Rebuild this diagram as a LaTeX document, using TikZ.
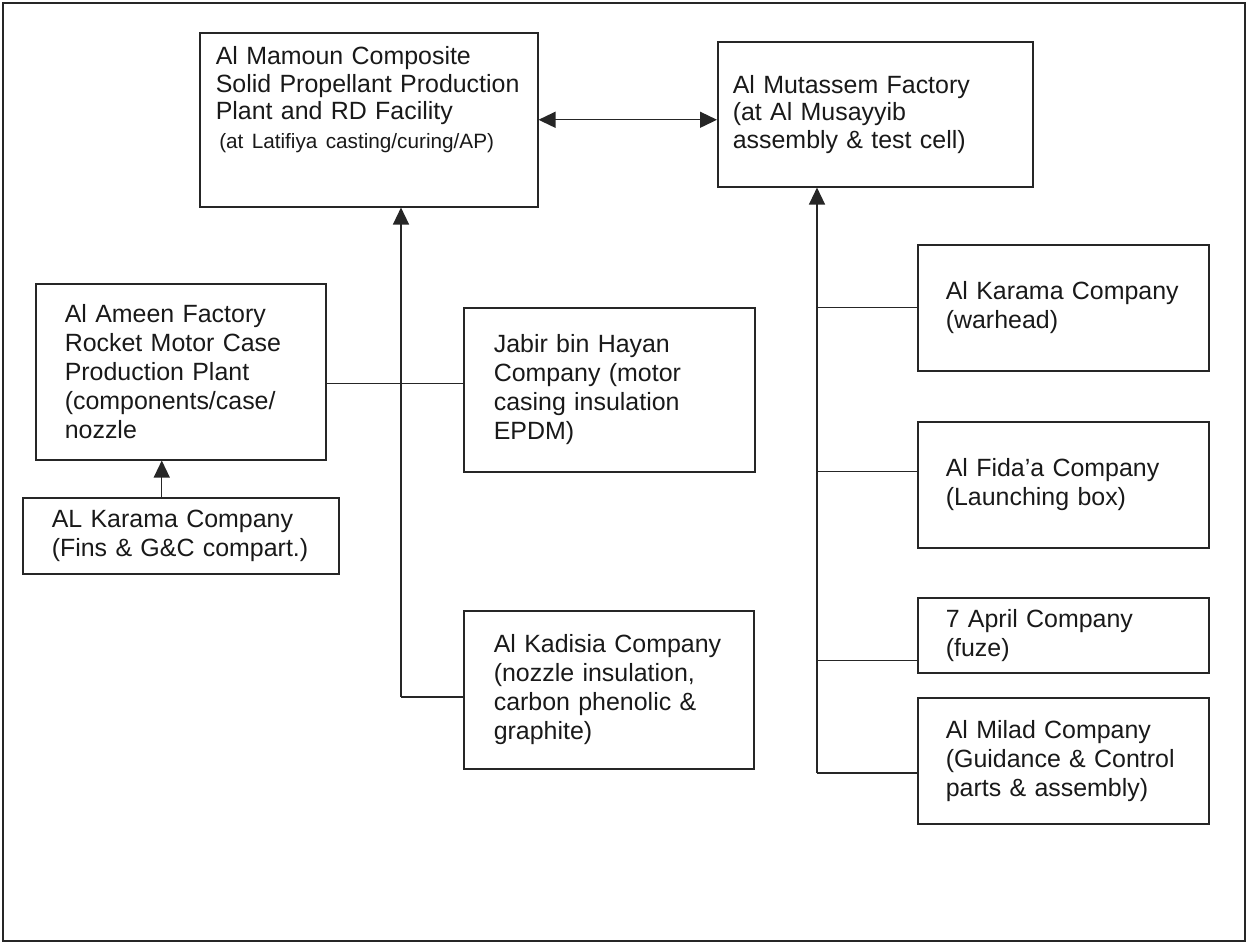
\documentclass[tikz,border=0pt]{standalone}
\usepackage{fontspec}
\setmainfont{Liberation Sans}
\usepackage{tikz}
\usetikzlibrary{arrows.meta,positioning,calc}

\tikzset{
  unit/.style={draw=black!85, line width=0.9pt, rectangle, anchor=north west,
    align=left, inner ysep=0pt, text=black!90,
    font=\fontsize{14.2}{16.5}\selectfont},
  part/.style={unit, text width=4.7cm, inner xsep=0.56cm},
  link/.style={draw=black!85, line width=0.75pt},
}

\begin{document}
\begin{tikzpicture}[x=0.02cm, y=-0.02cm, >={Triangle[length=0.34cm,width=0.32cm]}]
    \useasboundingbox (0,0) rectangle (1247,943);
    % page frame
    \draw[black!85, line width=0.05cm] (3,3) rectangle (1245,941);

    % top row
    \node[unit, text width=6.12cm, inner xsep=0.32cm, text height=0.64cm, text depth=2.84cm,
          font=\fontsize{14.2}{15.6}\selectfont] (mamoun) at (199,32)
        {Al Mamoun Composite\\ Solid Propellant Production\\ Plant and RD Facility\\[0.6pt]
         \hspace*{2pt}{\fontsize{11.8}{14}\selectfont (at Latifiya casting/curing/AP)}};
    \node[unit, text width=5.7cm, inner xsep=0.3cm, minimum height=2.9cm,
          font=\fontsize{14.2}{15.6}\selectfont] (mutassem) at (717,41)
        {Al Mutassem Factory\\ (at Al Musayyib\\ assembly \& test cell)};

    % left column
    \node[unit, text width=4.64cm, inner xsep=0.58cm, minimum height=3.52cm] (ameen) at (35,283)
        {Al Ameen Factory\\ Rocket Motor Case\\ Production Plant\\ (components/case/\\ nozzle};
    \node[unit, text width=5.16cm, inner xsep=0.58cm, minimum height=1.52cm] (fins) at (22,497)
        {AL Karama Company\\ (Fins \& G\&C compart.)};

    % middle column
    \node[unit, text width=4.62cm, inner xsep=0.6cm, minimum height=3.28cm] (jabir) at (463,307)
        {Jabir bin Hayan\\ Company (motor\\ casing insulation\\ EPDM)};
    \node[unit, text width=4.6cm, inner xsep=0.6cm, minimum height=3.16cm] (kadisia) at (463,610)
        {Al Kadisia Company\\ (nozzle insulation,\\ carbon phenolic \&\\ graphite)};

    % right column
    \node[part, minimum height=2.52cm] (warhead) at (917,244) {Al Karama Company\\ (warhead)};
    \node[part, minimum height=2.52cm] (fidaa) at (917,421) {Al Fida’a Company\\ (Launching box)};
    \node[part, minimum height=1.5cm] (april) at (917,597) {7 April Company\\ (fuze)};
    \node[part, minimum height=2.52cm] (milad) at (917,697)
        {Al Milad Company\\ (Guidance \& Control\\ parts \& assembly)};

    % links
    \draw[link, <->] (mamoun.east) -- (mamoun.east -| mutassem.west);

    \coordinate (lt) at (401,697);
    \draw[link, ->] (lt) -- (lt |- mamoun.south);
    \draw[link] (lt) -- (lt -| kadisia.west);
    \coordinate (jb) at ([yshift=0.12cm]jabir.west);
    \draw[link] (ameen.east |- jb) -- (jb);
    \coordinate (fb) at ([xshift=-0.38cm]fins.north);
    \draw[link, ->] (fb) -- (fb |- ameen.south);

    \coordinate (rt) at (817,773);
    \draw[link, ->] (rt) -- (rt |- mutassem.south);
    \draw[link] (rt |- warhead.west) -- (warhead.west);
    \coordinate (fa) at ([yshift=0.26cm]fidaa.west);
    \draw[link] (rt |- fa) -- (fa);
    \coordinate (ap) at ([yshift=-0.51cm]april.west);
    \draw[link] (rt |- ap) -- (ap);
    \draw[link] (rt) -- (rt -| milad.west);
\end{tikzpicture}
\end{document}
